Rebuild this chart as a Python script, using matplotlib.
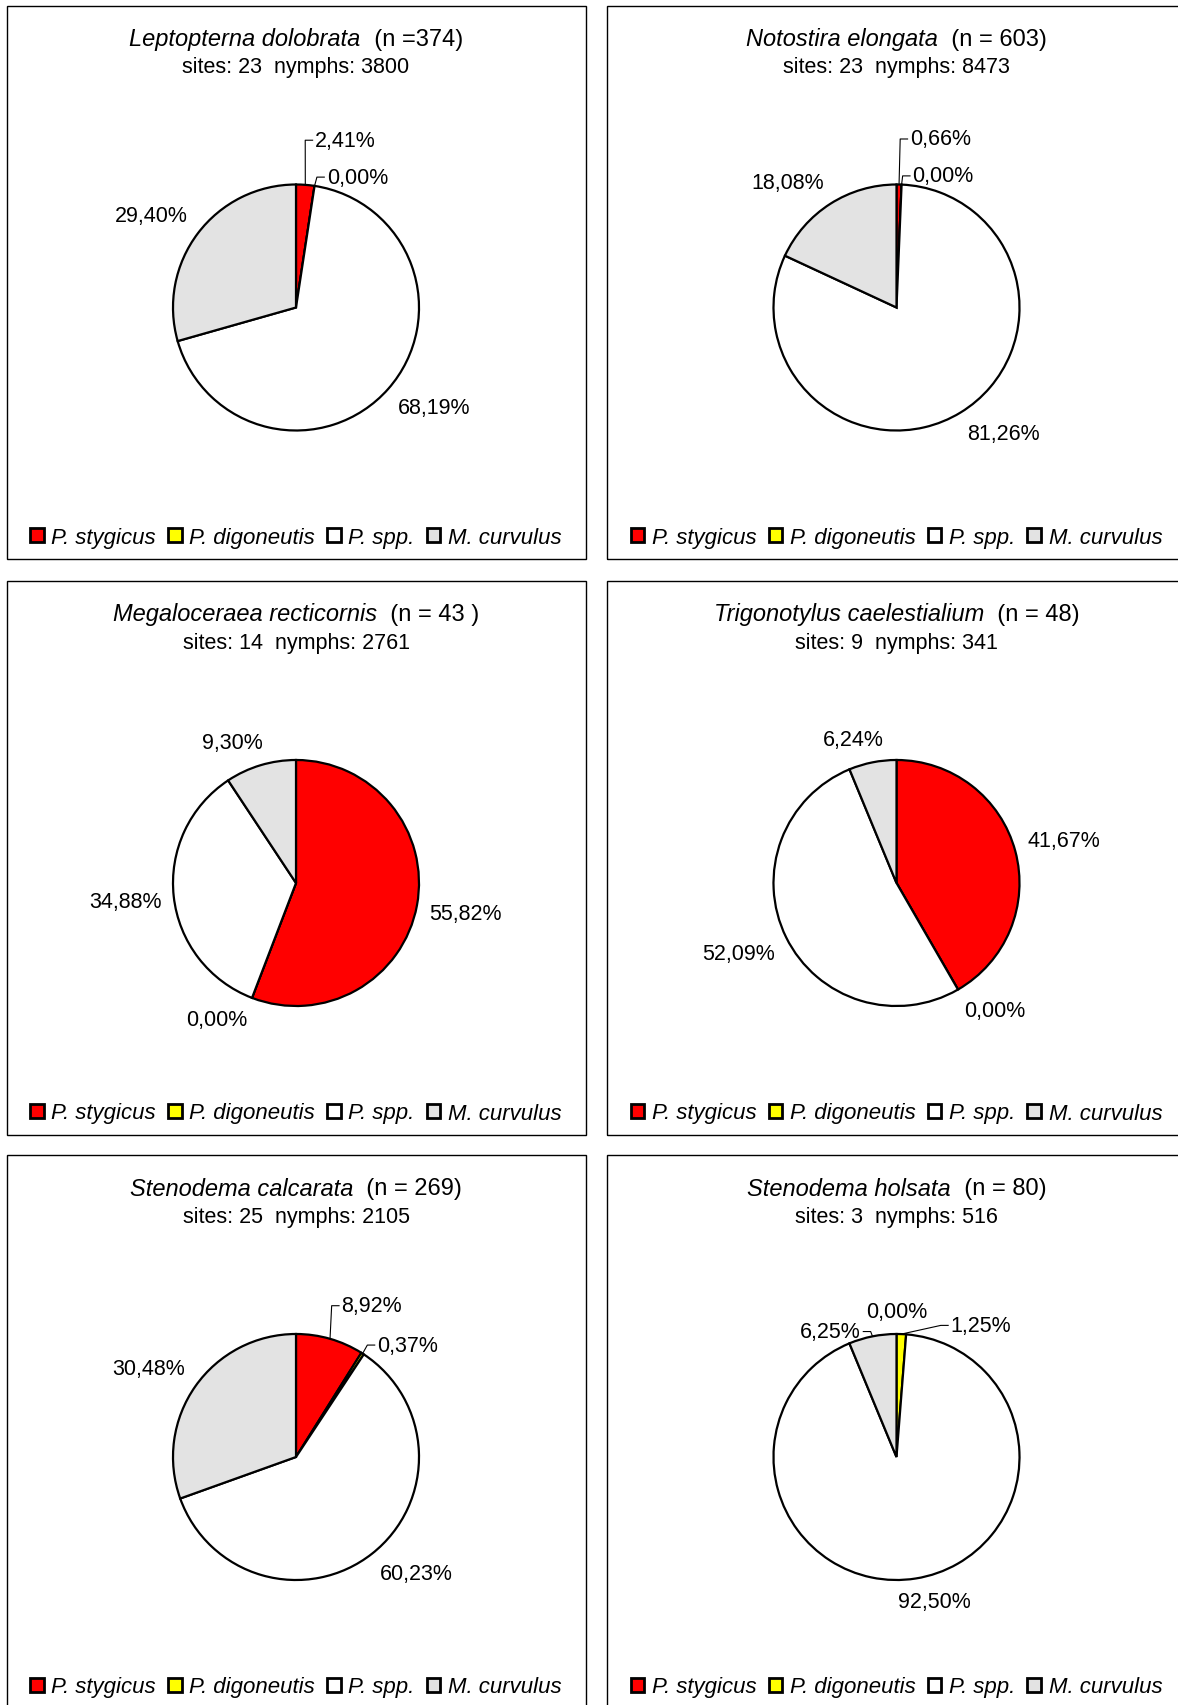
import numpy as np
import matplotlib
matplotlib.use('Agg')
import matplotlib.pyplot as plt
from matplotlib.patches import Rectangle, Patch

plt.rcParams['font.family'] = ['Liberation Sans', 'DejaVu Sans']

W, H = 1178, 1706

# host species per panel
species = ['Leptopterna dolobrata', 'Notostira elongata', 'Megaloceraea recticornis',
           'Trigonotylus caelestialium', 'Stenodema calcarata', 'Stenodema holsata']
n_text = ['(n =374)', '(n = 603)', '(n = 43 )', '(n = 48)', '(n = 269)', '(n = 80)']
sites = [23, 23, 14, 9, 25, 3]
nymphs = [3800, 8473, 2761, 341, 2105, 516]

# parasitoids (slice order) and their shares in %
parasitoids = ['P. stygicus', 'P. digoneutis', 'P. spp.', 'M. curvulus']
colors = ['#ff0000', '#ffff00', '#ffffff', '#e3e3e3']
shares = [
    [2.41, 0.00, 68.19, 29.40],
    [0.66, 0.00, 81.26, 18.08],
    [55.82, 0.00, 34.88, 9.30],
    [41.67, 0.00, 52.09, 6.24],
    [8.92, 0.37, 60.23, 30.48],
    [0.00, 1.25, 92.50, 6.25],
]

# crowded labels moved aside with a leader line: (panel, slice) -> (dx, dy in radii, side)
moved = {
    (0, 0): (0.155, 1.36, 'left'),
    (0, 1): (0.25, 1.06, 'left'),
    (1, 0): (0.11, 1.37, 'left'),
    (1, 1): (0.13, 1.07, 'left'),
    (4, 0): (0.37, 1.23, 'left'),
    (4, 1): (0.66, 0.91, 'left'),
    (5, 1): (0.44, 1.07, 'left'),
    (5, 3): (-0.29, 1.02, 'right'),
}

panel_x = [6.5, 607]
panel_y = [6.5, 582, 1156]
panel_w, panel_h = 579, 553.5
R = 123
FS = 15.5

fig = plt.figure(figsize=(W / 100, H / 100), dpi=100)
ax = fig.add_axes([0, 0, 1, 1])
renderer = fig.canvas.get_renderer()


def reset_lims():
    ax.set_xlim(0, W)
    ax.set_ylim(0, H)


reset_lims()
handles = [Patch(facecolor=c, edgecolor='black', linewidth=2) for c in colors]

for i in range(6):
    px = panel_x[i % 2]
    py = panel_y[i // 2]
    ax.add_patch(Rectangle((px, H - py - panel_h), panel_w, panel_h,
                           fill=False, lw=1.0, ec='black'))
    cx = px + panel_w / 2
    cy = H - py - 302

    ax.pie(shares[i], colors=colors, startangle=90, counterclock=False,
           center=(cx, cy), radius=R,
           wedgeprops=dict(edgecolor='black', linewidth=1.6))
    reset_lims()

    # percentage labels
    cum = np.cumsum([0] + shares[i]) / 100
    for j, v in enumerate(shares[i]):
        mid = (cum[j] + cum[j + 1]) / 2
        ang = np.deg2rad(90 - 360 * mid)
        c, s = np.cos(ang), np.sin(ang)
        txt = f'{v:.2f}%'.replace('.', ',')
        if (i, j) in moved:
            dx, dy, side = moved[(i, j)]
            tx, ty = cx + dx * R, cy + dy * R
            ex, ey = cx + c * R, cy + s * R
            sgn = 1 if side == 'left' else -1
            ax.plot([ex, tx - sgn * 0.08 * R, tx - sgn * 0.02 * R], [ey, ty, ty],
                    color='black', lw=0.8)
            ax.text(tx, ty, txt, ha=side, va='center', fontsize=FS)
        else:
            t = ax.text(0, 0, txt, ha='center', va='center', fontsize=FS)
            bb = t.get_window_extent(renderer)
            lx = cx + 1.1 * R * c + bb.width / 2 * np.clip(c / 0.35, -1, 1)
            ly = cy + 1.1 * R * s + bb.height / 2 * np.clip(s / 0.35, -1, 1)
            t.set_position((lx, ly))

    # title: italic species name + sample size
    ty = H - py - 33
    t1 = ax.text(0, ty, species[i], style='italic', fontsize=17, ha='left', va='center')
    t2 = ax.text(0, ty, '  ' + n_text[i], fontsize=17, ha='left', va='center')
    w1 = t1.get_window_extent(renderer).width
    w2 = t2.get_window_extent(renderer).width
    x0 = cx - (w1 + w2) / 2
    t1.set_x(x0)
    t2.set_x(x0 + w1)
    ax.text(cx, H - py - 61, f'sites: {sites[i]}  nymphs: {nymphs[i]}',
            fontsize=FS, ha='center', va='center')

    fig.legend(handles, parasitoids, loc='center',
               bbox_to_anchor=(cx / W, (H - py - 532) / H), ncol=4, frameon=False,
               prop={'style': 'italic', 'size': 16}, handlelength=0.6, handleheight=0.6,
               handletextpad=0.35, columnspacing=0.55, borderaxespad=0, borderpad=0)

reset_lims()
ax.axis('off')
fig.savefig('out.png', dpi=100)
